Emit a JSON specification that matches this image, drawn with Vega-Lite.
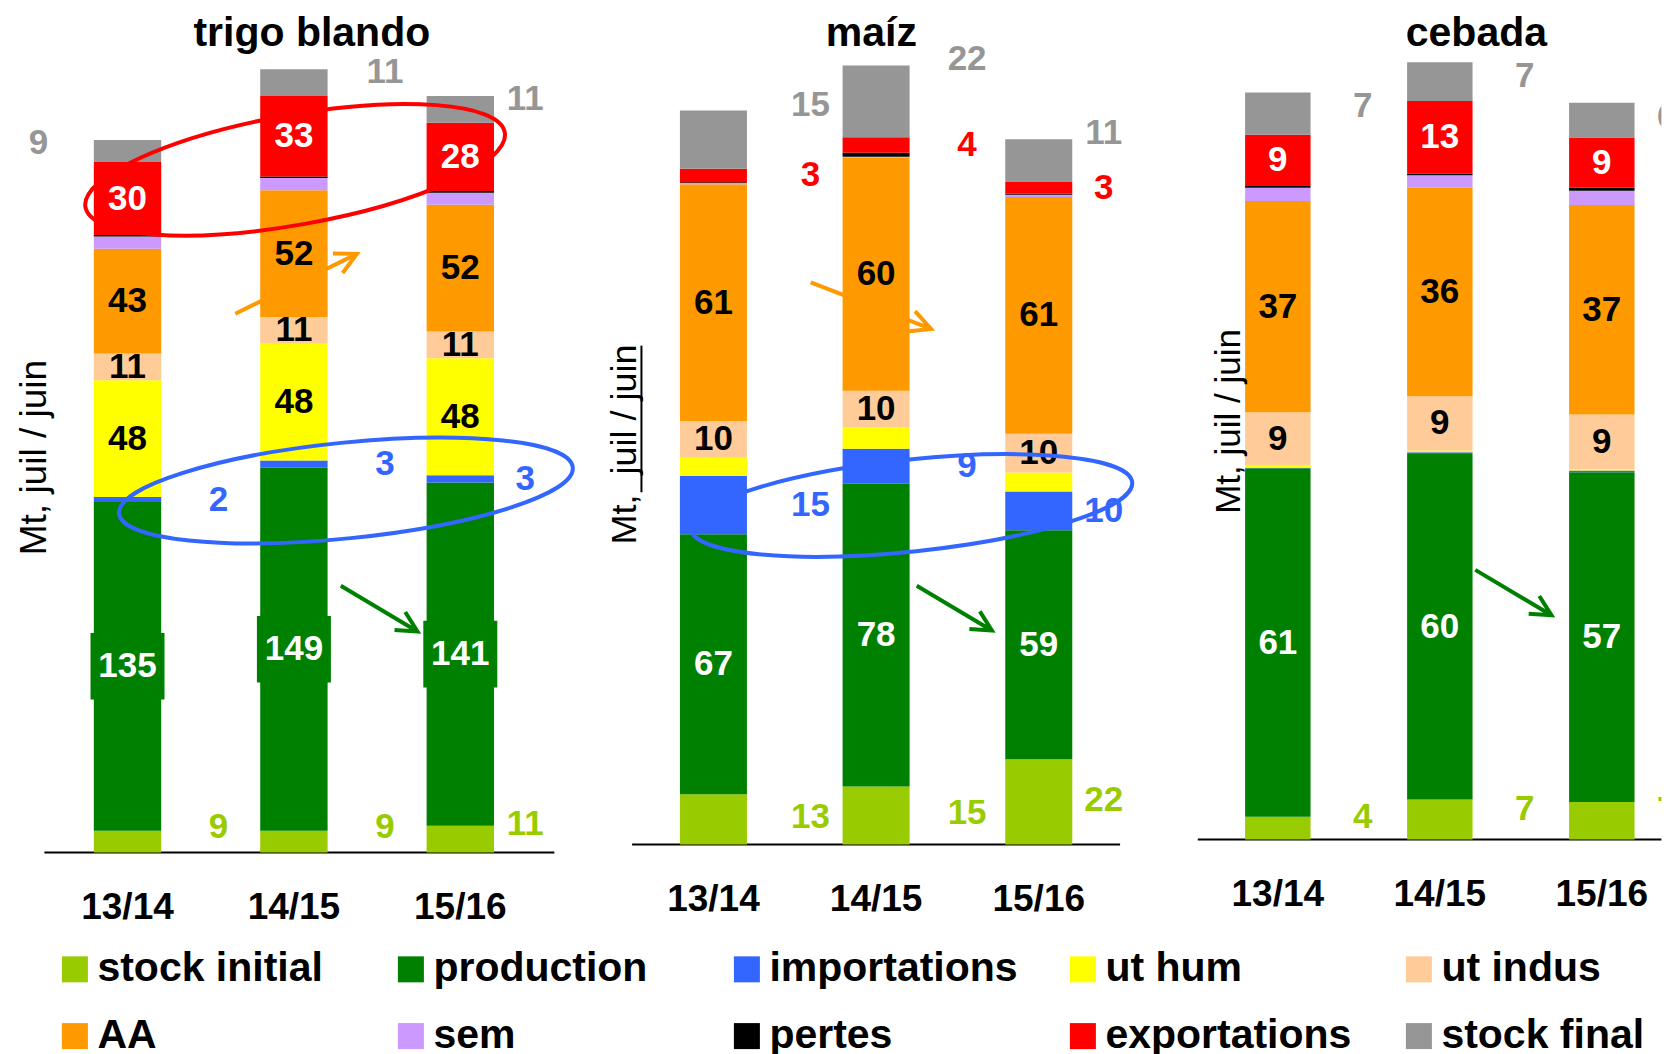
{
  "$schema": "https://vega.github.io/schema/vega-lite/v6.json",
  "padding": {"left": 15.4, "top": 12.6, "right": 0, "bottom": 0},
  "background": "white",
  "bounds": "flush",
  "spacing": 77.7,
  "config": {"view": {"stroke": null}, "font": "Liberation Sans"},
  "datasets": {
    "main": [
      {"crop":"trigo blando","year":"13/14","comp":"stock initial","value":9,"label":"9"},
      {"crop":"trigo blando","year":"13/14","comp":"production","value":135,"label":"135"},
      {"crop":"trigo blando","year":"13/14","comp":"importations","value":2,"label":"2"},
      {"crop":"trigo blando","year":"13/14","comp":"ut hum","value":48,"label":"48"},
      {"crop":"trigo blando","year":"13/14","comp":"ut indus","value":11,"label":"11"},
      {"crop":"trigo blando","year":"13/14","comp":"AA","value":43,"label":"43"},
      {"crop":"trigo blando","year":"13/14","comp":"sem","value":5,"label":""},
      {"crop":"trigo blando","year":"13/14","comp":"pertes","value":0.6,"label":""},
      {"crop":"trigo blando","year":"13/14","comp":"exportations","value":30,"label":"30"},
      {"crop":"trigo blando","year":"13/14","comp":"stock final","value":9,"label":"9"},
      {"crop":"trigo blando","year":"14/15","comp":"stock initial","value":9,"label":"9"},
      {"crop":"trigo blando","year":"14/15","comp":"production","value":149,"label":"149"},
      {"crop":"trigo blando","year":"14/15","comp":"importations","value":3,"label":"3"},
      {"crop":"trigo blando","year":"14/15","comp":"ut hum","value":48,"label":"48"},
      {"crop":"trigo blando","year":"14/15","comp":"ut indus","value":11,"label":"11"},
      {"crop":"trigo blando","year":"14/15","comp":"AA","value":52,"label":"52"},
      {"crop":"trigo blando","year":"14/15","comp":"sem","value":5,"label":""},
      {"crop":"trigo blando","year":"14/15","comp":"pertes","value":0.7,"label":""},
      {"crop":"trigo blando","year":"14/15","comp":"exportations","value":33,"label":"33"},
      {"crop":"trigo blando","year":"14/15","comp":"stock final","value":11,"label":"11"},
      {"crop":"trigo blando","year":"15/16","comp":"stock initial","value":11,"label":"11"},
      {"crop":"trigo blando","year":"15/16","comp":"production","value":141,"label":"141"},
      {"crop":"trigo blando","year":"15/16","comp":"importations","value":3,"label":"3"},
      {"crop":"trigo blando","year":"15/16","comp":"ut hum","value":48,"label":"48"},
      {"crop":"trigo blando","year":"15/16","comp":"ut indus","value":11,"label":"11"},
      {"crop":"trigo blando","year":"15/16","comp":"AA","value":52,"label":"52"},
      {"crop":"trigo blando","year":"15/16","comp":"sem","value":5,"label":""},
      {"crop":"trigo blando","year":"15/16","comp":"pertes","value":0.7,"label":""},
      {"crop":"trigo blando","year":"15/16","comp":"exportations","value":28,"label":"28"},
      {"crop":"trigo blando","year":"15/16","comp":"stock final","value":11,"label":"11"},
      {"crop":"maíz","year":"13/14","comp":"stock initial","value":13,"label":"13"},
      {"crop":"maíz","year":"13/14","comp":"production","value":67,"label":"67"},
      {"crop":"maíz","year":"13/14","comp":"importations","value":15,"label":"15"},
      {"crop":"maíz","year":"13/14","comp":"ut hum","value":4.7,"label":""},
      {"crop":"maíz","year":"13/14","comp":"ut indus","value":9.5,"label":"10"},
      {"crop":"maíz","year":"13/14","comp":"AA","value":61,"label":"61"},
      {"crop":"maíz","year":"13/14","comp":"sem","value":0.3,"label":""},
      {"crop":"maíz","year":"13/14","comp":"pertes","value":0.2,"label":""},
      {"crop":"maíz","year":"13/14","comp":"exportations","value":3.5,"label":"3"},
      {"crop":"maíz","year":"13/14","comp":"stock final","value":15,"label":"15"},
      {"crop":"maíz","year":"14/15","comp":"stock initial","value":15,"label":"15"},
      {"crop":"maíz","year":"14/15","comp":"production","value":78,"label":"78"},
      {"crop":"maíz","year":"14/15","comp":"importations","value":9,"label":"9"},
      {"crop":"maíz","year":"14/15","comp":"ut hum","value":5.5,"label":""},
      {"crop":"maíz","year":"14/15","comp":"ut indus","value":9.5,"label":"10"},
      {"crop":"maíz","year":"14/15","comp":"AA","value":60,"label":"60"},
      {"crop":"maíz","year":"14/15","comp":"sem","value":0.3,"label":""},
      {"crop":"maíz","year":"14/15","comp":"pertes","value":1,"label":""},
      {"crop":"maíz","year":"14/15","comp":"exportations","value":4,"label":"4"},
      {"crop":"maíz","year":"14/15","comp":"stock final","value":18.5,"label":"22"},
      {"crop":"maíz","year":"15/16","comp":"stock initial","value":22,"label":"22"},
      {"crop":"maíz","year":"15/16","comp":"production","value":59,"label":"59"},
      {"crop":"maíz","year":"15/16","comp":"importations","value":10,"label":"10"},
      {"crop":"maíz","year":"15/16","comp":"ut hum","value":4.9,"label":""},
      {"crop":"maíz","year":"15/16","comp":"ut indus","value":10,"label":"10"},
      {"crop":"maíz","year":"15/16","comp":"AA","value":61,"label":"61"},
      {"crop":"maíz","year":"15/16","comp":"sem","value":0.6,"label":""},
      {"crop":"maíz","year":"15/16","comp":"pertes","value":0.3,"label":""},
      {"crop":"maíz","year":"15/16","comp":"exportations","value":3,"label":"3"},
      {"crop":"maíz","year":"15/16","comp":"stock final","value":11,"label":"11"},
      {"crop":"cebada","year":"13/14","comp":"stock initial","value":4,"label":"4"},
      {"crop":"cebada","year":"13/14","comp":"production","value":61,"label":"61"},
      {"crop":"cebada","year":"13/14","comp":"importations","value":0.1,"label":""},
      {"crop":"cebada","year":"13/14","comp":"ut hum","value":0.5,"label":""},
      {"crop":"cebada","year":"13/14","comp":"ut indus","value":9.2,"label":"9"},
      {"crop":"cebada","year":"13/14","comp":"AA","value":37,"label":"37"},
      {"crop":"cebada","year":"13/14","comp":"sem","value":2.3,"label":""},
      {"crop":"cebada","year":"13/14","comp":"pertes","value":0.3,"label":""},
      {"crop":"cebada","year":"13/14","comp":"exportations","value":9,"label":"9"},
      {"crop":"cebada","year":"13/14","comp":"stock final","value":7.4,"label":"7"},
      {"crop":"cebada","year":"14/15","comp":"stock initial","value":7,"label":"7"},
      {"crop":"cebada","year":"14/15","comp":"production","value":60.5,"label":"60"},
      {"crop":"cebada","year":"14/15","comp":"importations","value":0.3,"label":""},
      {"crop":"cebada","year":"14/15","comp":"ut hum","value":0.3,"label":""},
      {"crop":"cebada","year":"14/15","comp":"ut indus","value":9.5,"label":"9"},
      {"crop":"cebada","year":"14/15","comp":"AA","value":36.5,"label":"36"},
      {"crop":"cebada","year":"14/15","comp":"sem","value":2.2,"label":""},
      {"crop":"cebada","year":"14/15","comp":"pertes","value":0.3,"label":""},
      {"crop":"cebada","year":"14/15","comp":"exportations","value":12.7,"label":"13"},
      {"crop":"cebada","year":"14/15","comp":"stock final","value":6.8,"label":"7"},
      {"crop":"cebada","year":"15/16","comp":"stock initial","value":6.6,"label":"7"},
      {"crop":"cebada","year":"15/16","comp":"production","value":57.7,"label":"57"},
      {"crop":"cebada","year":"15/16","comp":"importations","value":0.3,"label":""},
      {"crop":"cebada","year":"15/16","comp":"ut hum","value":0.3,"label":""},
      {"crop":"cebada","year":"15/16","comp":"ut indus","value":9.5,"label":"9"},
      {"crop":"cebada","year":"15/16","comp":"AA","value":36.7,"label":"37"},
      {"crop":"cebada","year":"15/16","comp":"sem","value":2.5,"label":""},
      {"crop":"cebada","year":"15/16","comp":"pertes","value":0.5,"label":""},
      {"crop":"cebada","year":"15/16","comp":"exportations","value":8.8,"label":"9"},
      {"crop":"cebada","year":"15/16","comp":"stock final","value":6.1,"label":"6"}
    ]
  },
  "hconcat": [
    {
      "width": 510,
      "height": 797,
      "data": {"name": "main"},
      "transform": [
        {"filter": "datum.crop == 'trigo blando'"},
        {"calculate": "indexof(['stock initial','production','importations','ut hum','ut indus','AA','sem','pertes','exportations','stock final'], datum.comp)", "as": "ord"},
        {"stack": "value", "groupby": ["year"], "sort": [{"field": "ord", "order": "ascending"}], "as": ["v0", "v1"]},
        {"calculate": "(datum.v0 + datum.v1) / 2", "as": "mid"}
      ],
      "layer": [
        {
          "data": {"values": [{}]},
          "mark": {"type": "rule", "color": "black", "strokeWidth": 2},
          "encoding": {"y": {"datum": 0, "type": "quantitative", "axis": null}}
        },
        {
          "mark": {"type": "bar"},
          "encoding": {
            "x": {"field": "year", "type": "nominal", "scale": {"paddingInner": 0.595, "paddingOuter": 0.33, "align": 0.45, "round": false}, "axis": null},
            "y": {"field": "v0", "type": "quantitative", "scale": {"domain": [0, 327.3], "nice": false}, "axis": null},
            "y2": {"field": "v1"},
            "color": {"field": "comp", "type": "nominal",
              "scale": {"domain": ["stock initial","production","importations","ut hum","ut indus","AA","sem","pertes","exportations","stock final"], "range": ["#99CC00","#008000","#3366FF","#FFFF00","#FFCC99","#FF9900","#CC99FF","#000000","#FF0000","#969696"]},
              "legend": {"title": null, "orient": "none", "legendX": 10, "legendY": 893, "direction": "horizontal", "columns": 5, "gridAlign": "all", "columnPadding": 44, "rowPadding": 25, "symbolType": "square", "symbolSize": 676, "symbolStrokeWidth": 0, "symbolOpacity": 1, "labelFont": "Liberation Sans", "labelFontSize": 41, "labelFontWeight": "bold", "labelColor": "black", "labelOffset": 2, "labelLimit": 500, "padding": 0}}
          }
        },
        {
          "transform": [{"filter": "datum.comp == 'production'"}],
          "mark": {"type": "point", "shape": "M-1,-0.9L1,-0.9L1,0.9L-1,0.9Z", "size": 5476, "filled": true, "color": "#008000", "opacity": 1},
          "encoding": {"x": {"field": "year", "type": "nominal", "axis": null}, "y": {"field": "mid", "type": "quantitative", "axis": null}}
        },
        {
          "transform": [{"filter": "indexof(['production','ut hum','ut indus','AA','exportations'], datum.comp) >= 0"}],
          "mark": {"type": "text", "font": "Liberation Sans", "fontWeight": "bold", "fontSize": 35, "baseline": "middle", "align": "center"},
          "encoding": {"x": {"field": "year", "type": "nominal", "axis": null}, "y": {"field": "mid", "type": "quantitative", "axis": null}, "text": {"field": "label"},
            "color": {"condition": {"test": "datum.comp == 'production' || datum.comp == 'exportations'", "value": "white"}, "value": "black"}}
        },
        {
          "transform": [{"filter": "datum.comp == 'stock initial'"}],
          "mark": {"type": "text", "font": "Liberation Sans", "fontWeight": "bold", "fontSize": 35, "baseline": "middle", "align": "center", "dx": {"expr": "datum.year == '15/16' ? 65 : 91"}, "dy": -15, "color": "#99CC00"},
          "encoding": {"x": {"field": "year", "type": "nominal", "axis": null}, "y": {"field": "mid", "type": "quantitative", "axis": null}, "text": {"field": "label"}}
        },
        {
          "transform": [{"filter": "datum.comp == 'stock final'"}],
          "mark": {"type": "text", "font": "Liberation Sans", "fontWeight": "bold", "fontSize": 35, "baseline": "middle", "align": "center", "dx": {"expr": "datum.year == '13/14' ? -89 : datum.year == '15/16' ? 65 : 91"}, "dy": 3, "color": "#969696"},
          "encoding": {"x": {"field": "year", "type": "nominal", "axis": null}, "y": {"field": "v1", "type": "quantitative", "axis": null}, "text": {"field": "label"}}
        },
        {
          "transform": [{"filter": "datum.comp == 'importations'"}],
          "mark": {"type": "text", "font": "Liberation Sans", "fontWeight": "bold", "fontSize": 35, "baseline": "middle", "align": "center", "dx": {"expr": "datum.year == '15/16' ? 65 : 91"}, "color": "#3366FF"},
          "encoding": {"x": {"field": "year", "type": "nominal", "axis": null}, "y": {"field": "mid", "type": "quantitative", "axis": null}, "text": {"field": "label"}}
        },
        {
          "transform": [{"filter": "datum.comp == 'stock initial'"}],
          "mark": {"type": "text", "font": "Liberation Sans", "fontWeight": "bold", "fontSize": 37, "baseline": "alphabetic", "align": "center", "dy": 66, "color": "black"},
          "encoding": {"x": {"field": "year", "type": "nominal", "axis": null}, "y": {"datum": 0, "type": "quantitative", "axis": null}, "text": {"field": "year"}}
        },
        {
          "data": {"values": [{}]},
          "mark": {"type": "text", "text": "Mt, juil / juin", "font": "Liberation Sans", "fontSize": 37, "color": "black", "angle": -90, "baseline": "alphabetic", "align": "center"},
          "encoding": {"x": {"datum": "13/14", "type": "nominal", "bandPosition": -0.704, "axis": null}, "y": {"datum": 162.2, "type": "quantitative", "axis": null}}
        },
        {
          "data": {"values": [{}]},
          "mark": {"type": "text", "text": "trigo blando", "font": "Liberation Sans", "fontSize": 41, "fontWeight": "bold", "color": "black", "baseline": "alphabetic", "align": "center", "dy": -10},
          "encoding": {"x": {"datum": "14/15", "type": "nominal", "bandPosition": 0.766, "axis": null}, "y": {"datum": 327.3, "type": "quantitative", "axis": null}}
        },
        {
          "data": {"values": [{}]},
          "mark": {"type": "point", "shape": "M-0.9845,0.1754C-1.0095,0.0351,-0.589,-0.1571,-0.0453,-0.254C0.4985,-0.3509,0.9595,-0.3157,0.9845,-0.1754C1.0095,-0.0351,0.589,0.1571,0.0453,0.254C-0.4985,0.3509,-0.9595,0.3157,-0.9845,0.1754Z", "size": 181476, "filled": false, "color": "#FF0000", "strokeWidth": 4, "opacity": 1},
          "encoding": {"x": {"datum": "14/15", "type": "nominal", "bandPosition": 0.518, "axis": null}, "y": {"datum": 280.4, "type": "quantitative", "axis": null}}
        },
        {
          "data": {"values": [{}]},
          "mark": {"type": "point", "shape": "M-0.9949,0.1011C-1.0066,-0.0143,-0.5707,-0.1531,-0.0212,-0.2089C0.5283,-0.2647,0.9832,-0.2165,0.9949,-0.1011C1.0066,0.0143,0.5707,0.1531,0.0212,0.2089C-0.5283,0.2647,-0.9832,0.2165,-0.9949,0.1011Z", "size": 207936, "filled": false, "color": "#3366FF", "strokeWidth": 4, "opacity": 1},
          "encoding": {"x": {"datum": "14/15", "type": "nominal", "bandPosition": 1.272, "axis": null}, "y": {"datum": 148.7, "type": "quantitative", "axis": null}}
        },
        {
          "data": {"values": [{}]},
          "mark": {"type": "point", "shape": "M-0.859,-0.512L0.859,0.512M0.5837,0.0755L0.859,0.512L0.344,0.4775", "size": 7974, "filled": false, "color": "#008000", "strokeWidth": 4, "opacity": 1},
          "encoding": {"x": {"datum": "14/15", "type": "nominal", "bandPosition": 1.765, "axis": null}, "y": {"datum": 100.2, "type": "quantitative", "axis": null}}
        },
        {
          "data": {"values": [{}]},
          "mark": {"type": "point", "shape": "M-0.8973,0.4415L0.8973,-0.4415M0.5435,-0.4469L0.8973,-0.4415L0.6857,-0.158", "size": 18360, "filled": false, "color": "#FF9900", "strokeWidth": 4, "opacity": 1},
          "encoding": {"x": {"datum": "14/15", "type": "nominal", "bandPosition": 0.533, "axis": null}, "y": {"datum": 233.6, "type": "quantitative", "axis": null}}
        }
      ]
    },
    {
      "width": 488,
      "height": 789,
      "data": {"name": "main"},
      "transform": [
        {"filter": "datum.crop == 'maíz'"},
        {"calculate": "indexof(['stock initial','production','importations','ut hum','ut indus','AA','sem','pertes','exportations','stock final'], datum.comp)", "as": "ord"},
        {"stack": "value", "groupby": ["year"], "sort": [{"field": "ord", "order": "ascending"}], "as": ["v0", "v1"]},
        {"calculate": "(datum.v0 + datum.v1) / 2", "as": "mid"}
      ],
      "layer": [
        {
          "data": {"values": [{}]},
          "mark": {"type": "rule", "color": "black", "strokeWidth": 2},
          "encoding": {"y": {"datum": 0, "type": "quantitative", "axis": null}}
        },
        {
          "mark": {"type": "bar"},
          "encoding": {
            "x": {"field": "year", "type": "nominal", "scale": {"paddingInner": 0.588, "paddingOuter": 0.294, "round": false}, "axis": null},
            "y": {"field": "v0", "type": "quantitative", "scale": {"domain": [0, 203.35], "nice": false}, "axis": null},
            "y2": {"field": "v1"},
            "color": {"field": "comp", "type": "nominal",
              "scale": {"domain": ["stock initial","production","importations","ut hum","ut indus","AA","sem","pertes","exportations","stock final"], "range": ["#99CC00","#008000","#3366FF","#FFFF00","#FFCC99","#FF9900","#CC99FF","#000000","#FF0000","#969696"]},
              "legend": {"title": null, "orient": "none", "legendX": 10, "legendY": 893, "direction": "horizontal", "columns": 5, "gridAlign": "all", "columnPadding": 44, "rowPadding": 25, "symbolType": "square", "symbolSize": 676, "symbolStrokeWidth": 0, "symbolOpacity": 1, "labelFont": "Liberation Sans", "labelFontSize": 41, "labelFontWeight": "bold", "labelColor": "black", "labelOffset": 2, "labelLimit": 500, "padding": 0}}
          }
        },
        {
          "transform": [{"filter": "indexof(['production','ut indus','AA'], datum.comp) >= 0"}],
          "mark": {"type": "text", "font": "Liberation Sans", "fontWeight": "bold", "fontSize": 35, "baseline": "middle", "align": "center"},
          "encoding": {"x": {"field": "year", "type": "nominal", "axis": null}, "y": {"field": "mid", "type": "quantitative", "axis": null}, "text": {"field": "label"},
            "color": {"condition": {"test": "datum.comp == 'production'", "value": "white"}, "value": "black"}}
        },
        {
          "transform": [{"filter": "datum.comp == 'stock initial'"}],
          "mark": {"type": "text", "font": "Liberation Sans", "fontWeight": "bold", "fontSize": 35, "baseline": "middle", "align": "center", "dx": {"expr": "datum.year == '13/14' ? 97 : datum.year == '15/16' ? 65 : 91"}, "dy": -2, "color": "#99CC00"},
          "encoding": {"x": {"field": "year", "type": "nominal", "axis": null}, "y": {"field": "mid", "type": "quantitative", "axis": null}, "text": {"field": "label"}}
        },
        {
          "transform": [{"filter": "datum.comp == 'stock final'"}],
          "mark": {"type": "text", "font": "Liberation Sans", "fontWeight": "bold", "fontSize": 35, "baseline": "middle", "align": "center", "dx": {"expr": "datum.year == '13/14' ? 97 : datum.year == '15/16' ? 65 : 91"}, "dy": -6, "color": "#969696"},
          "encoding": {"x": {"field": "year", "type": "nominal", "axis": null}, "y": {"field": "v1", "type": "quantitative", "axis": null}, "text": {"field": "label"}}
        },
        {
          "transform": [{"filter": "datum.comp == 'importations' || datum.comp == 'exportations'"}],
          "mark": {"type": "text", "font": "Liberation Sans", "fontWeight": "bold", "fontSize": 35, "baseline": "middle", "align": "center", "dx": {"expr": "datum.year == '13/14' ? 97 : datum.year == '15/16' ? 65 : 91"}},
          "encoding": {"x": {"field": "year", "type": "nominal", "axis": null}, "y": {"field": "mid", "type": "quantitative", "axis": null}, "text": {"field": "label"},
            "color": {"condition": {"test": "datum.comp == 'importations'", "value": "#3366FF"}, "value": "#FF0000"}}
        },
        {
          "transform": [{"filter": "datum.comp == 'stock initial'"}],
          "mark": {"type": "text", "font": "Liberation Sans", "fontWeight": "bold", "fontSize": 37, "baseline": "alphabetic", "align": "center", "dy": 66, "color": "black"},
          "encoding": {"x": {"field": "year", "type": "nominal", "axis": null}, "y": {"datum": 0, "type": "quantitative", "axis": null}, "text": {"field": "year"}}
        },
        {
          "data": {"values": [{}]},
          "mark": {"type": "text", "text": "Mt,\u00a0 juil / juin", "font": "Liberation Sans", "fontSize": 36, "color": "black", "angle": -90, "baseline": "alphabetic", "align": "center"},
          "encoding": {"x": {"datum": "13/14", "type": "nominal", "bandPosition": -0.649, "axis": null}, "y": {"datum": 103.1, "type": "quantitative", "axis": null}}
        },
        {
          "data": {"values": [{}]},
          "mark": {"type": "rule", "color": "black", "strokeWidth": 2},
          "encoding": {"x": {"datum": "13/14", "type": "nominal", "bandPosition": -0.574, "axis": null}, "y": {"datum": 90.8, "type": "quantitative", "axis": null}, "y2": {"datum": 128.6}}
        },
        {
          "data": {"values": [{}]},
          "mark": {"type": "text", "text": "maíz", "font": "Liberation Sans", "fontSize": 41, "fontWeight": "bold", "color": "black", "baseline": "alphabetic", "align": "center", "dy": -10},
          "encoding": {"x": {"datum": "14/15", "type": "nominal", "bandPosition": 0.43, "axis": null}, "y": {"datum": 203.35, "type": "quantitative", "axis": null}}
        },
        {
          "data": {"values": [{}]},
          "mark": {"type": "point", "shape": "M-0.9945,0.1045C-1.0065,-0.0091,-0.5709,-0.1481,-0.0216,-0.2059C0.5276,-0.2636,0.9826,-0.2182,0.9945,-0.1045C1.0065,0.0091,0.5709,0.1481,0.0216,0.2059C-0.5276,0.2636,-0.9826,0.2182,-0.9945,0.1045Z", "size": 197136, "filled": false, "color": "#3366FF", "strokeWidth": 4, "opacity": 1},
          "encoding": {"x": {"datum": "14/15", "type": "nominal", "bandPosition": 1.027, "axis": null}, "y": {"datum": 87.4, "type": "quantitative", "axis": null}}
        },
        {
          "data": {"values": [{}]},
          "mark": {"type": "point", "shape": "M-0.859,-0.512L0.859,0.512M0.5837,0.0755L0.859,0.512L0.344,0.4775", "size": 7656, "filled": false, "color": "#008000", "strokeWidth": 4, "opacity": 1},
          "encoding": {"x": {"datum": "14/15", "type": "nominal", "bandPosition": 1.667, "axis": null}, "y": {"datum": 60.95, "type": "quantitative", "axis": null}}
        },
        {
          "data": {"values": [{}]},
          "mark": {"type": "point", "shape": "M-0.9323,-0.3616L0.9323,0.3616M0.6848,0.0844L0.9323,0.3616L0.5626,0.3995", "size": 16641, "filled": false, "color": "#FF9900", "strokeWidth": 4, "opacity": 1},
          "encoding": {"x": {"datum": "14/15", "type": "nominal", "bandPosition": 0.422, "axis": null}, "y": {"datum": 138.9, "type": "quantitative", "axis": null}}
        }
      ]
    },
    {
      "width": 463.6,
      "height": 784,
      "data": {"name": "main"},
      "transform": [
        {"filter": "datum.crop == 'cebada'"},
        {"calculate": "indexof(['stock initial','production','importations','ut hum','ut indus','AA','sem','pertes','exportations','stock final'], datum.comp)", "as": "ord"},
        {"stack": "value", "groupby": ["year"], "sort": [{"field": "ord", "order": "ascending"}], "as": ["v0", "v1"]},
        {"calculate": "(datum.v0 + datum.v1) / 2", "as": "mid"}
      ],
      "layer": [
        {
          "data": {"values": [{}]},
          "mark": {"type": "rule", "color": "black", "strokeWidth": 2},
          "encoding": {"y": {"datum": 0, "type": "quantitative", "axis": null}}
        },
        {
          "mark": {"type": "bar"},
          "encoding": {
            "x": {"field": "year", "type": "nominal", "scale": {"paddingInner": 0.596, "paddingOuter": 0.2289, "align": 0.638, "round": false}, "axis": null},
            "y": {"field": "v0", "type": "quantitative", "scale": {"domain": [0, 137.25], "nice": false}, "axis": null},
            "y2": {"field": "v1"},
            "color": {"field": "comp", "type": "nominal",
              "scale": {"domain": ["stock initial","production","importations","ut hum","ut indus","AA","sem","pertes","exportations","stock final"], "range": ["#99CC00","#008000","#3366FF","#FFFF00","#FFCC99","#FF9900","#CC99FF","#000000","#FF0000","#969696"]},
              "legend": {"title": null, "orient": "none", "legendX": 10, "legendY": 893, "direction": "horizontal", "columns": 5, "gridAlign": "all", "columnPadding": 44, "rowPadding": 25, "symbolType": "square", "symbolSize": 676, "symbolStrokeWidth": 0, "symbolOpacity": 1, "labelFont": "Liberation Sans", "labelFontSize": 41, "labelFontWeight": "bold", "labelColor": "black", "labelOffset": 2, "labelLimit": 500, "padding": 0}}
          }
        },
        {
          "transform": [{"filter": "indexof(['production','ut indus','AA','exportations'], datum.comp) >= 0"}],
          "mark": {"type": "text", "font": "Liberation Sans", "fontWeight": "bold", "fontSize": 35, "baseline": "middle", "align": "center"},
          "encoding": {"x": {"field": "year", "type": "nominal", "axis": null}, "y": {"field": "mid", "type": "quantitative", "axis": null}, "text": {"field": "label"},
            "color": {"condition": {"test": "datum.comp == 'production' || datum.comp == 'exportations'", "value": "white"}, "value": "black"}}
        },
        {
          "transform": [{"filter": "datum.comp == 'stock initial'"}],
          "mark": {"type": "text", "clip": true, "font": "Liberation Sans", "fontWeight": "bold", "fontSize": 35, "baseline": "middle", "align": "center", "dx": {"expr": "datum.year == '15/16' ? 65 : 85"}, "dy": -11, "color": "#99CC00"},
          "encoding": {"x": {"field": "year", "type": "nominal", "axis": null}, "y": {"field": "mid", "type": "quantitative", "axis": null}, "text": {"field": "label"}}
        },
        {
          "transform": [{"filter": "datum.comp == 'stock final'"}],
          "mark": {"type": "text", "clip": true, "font": "Liberation Sans", "fontWeight": "bold", "fontSize": 35, "baseline": "middle", "align": "center", "dx": {"expr": "datum.year == '15/16' ? 65 : 85"}, "dy": 14, "color": "#969696"},
          "encoding": {"x": {"field": "year", "type": "nominal", "axis": null}, "y": {"field": "v1", "type": "quantitative", "axis": null}, "text": {"field": "label"}}
        },
        {
          "transform": [{"filter": "datum.comp == 'stock initial'"}],
          "mark": {"type": "text", "font": "Liberation Sans", "fontWeight": "bold", "fontSize": 37, "baseline": "alphabetic", "align": "center", "dy": 66, "color": "black"},
          "encoding": {"x": {"field": "year", "type": "nominal", "axis": null}, "y": {"datum": 0, "type": "quantitative", "axis": null}, "text": {"field": "year"}}
        },
        {
          "data": {"values": [{}]},
          "mark": {"type": "text", "text": "Mt, juil / juin", "font": "Liberation Sans", "fontSize": 35, "color": "black", "angle": -90, "baseline": "alphabetic", "align": "center"},
          "encoding": {"x": {"datum": "13/14", "type": "nominal", "bandPosition": -0.0825, "axis": null}, "y": {"datum": 73.2, "type": "quantitative", "axis": null}}
        },
        {
          "data": {"values": [{}]},
          "mark": {"type": "text", "text": "cebada", "font": "Liberation Sans", "fontSize": 41, "fontWeight": "bold", "color": "black", "baseline": "alphabetic", "align": "center", "dy": -10},
          "encoding": {"x": {"datum": "14/15", "type": "nominal", "bandPosition": 1.059, "axis": null}, "y": {"datum": 137.25, "type": "quantitative", "axis": null}}
        },
        {
          "data": {"values": [{}]},
          "mark": {"type": "point", "shape": "M-0.859,-0.512L0.859,0.512M0.5837,0.0755L0.859,0.512L0.344,0.4775", "size": 7885, "filled": false, "color": "#008000", "strokeWidth": 4, "opacity": 1},
          "encoding": {"x": {"datum": "14/15", "type": "nominal", "bandPosition": 1.624, "axis": null}, "y": {"datum": 43.24, "type": "quantitative", "axis": null}}
        }
      ]
    }
  ]
}
